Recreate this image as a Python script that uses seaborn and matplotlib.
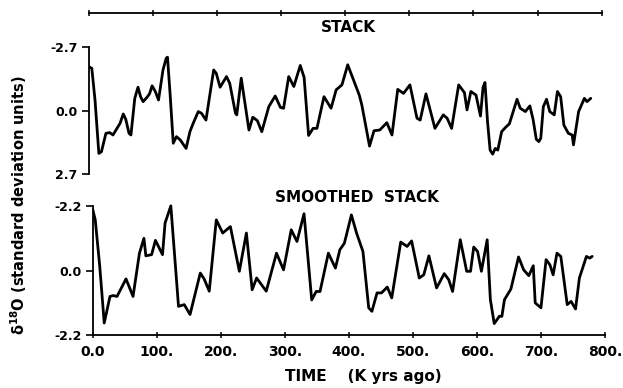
import matplotlib
matplotlib.use("Agg")
import matplotlib.pyplot as plt
import numpy as np
import pandas as pd
import seaborn as sns

# ---------------- data ----------------
stack_time = [0, 5, 10, 16, 20, 27, 33, 38, 49, 54, 58, 63, 66, 72, 77, 81, 85, 91, 95, 99,
              104, 109, 116, 121, 123, 127, 132, 137, 143, 152, 158, 163, 171, 176, 183, 195,
              199, 205, 215, 220, 229, 231, 238, 250, 256, 263, 270, 281, 291, 299, 304, 312,
              320, 330, 336, 343, 350, 356, 367, 378, 386, 395, 404, 413, 422, 426, 438, 445,
              454, 465, 473, 482, 491, 501, 512, 517, 526, 540, 553, 559, 566, 577, 586, 590,
              596, 604, 611, 615, 618, 622, 626, 630, 634, 638, 644, 650, 656, 662, 668, 673,
              681, 688, 693, 698, 702, 705, 709, 714, 719, 726, 731, 736, 741, 748, 754, 756,
              764, 773, 777, 783]
stack_vals = [-1.86, -1.79, -0.45, 1.81, 1.74, 0.96, 0.93, 1.03, 0.54, 0.14, 0.37, 0.96, 1.03,
              -0.52, -0.99, -0.59, -0.38, -0.56, -0.71, -1.05, -0.81, -0.45, -1.72, -2.22,
              -2.26, -0.73, 1.38, 1.10, 1.24, 1.60, 0.89, 0.54, 0.04, 0.11, 0.40, -1.72, -1.58,
              -0.99, -1.44, -1.16, 0.11, 0.18, -1.37, 0.82, 0.28, 0.42, 0.89, -0.17, -0.62,
              -0.14, -0.10, -1.44, -1.02, -1.91, -1.41, 1.05, 0.75, 0.75, -0.59, -0.10, -0.88,
              -1.09, -1.94, -1.30, -0.66, -0.24, 1.50, 0.85, 0.82, 0.51, 1.03, -0.90, -0.73,
              -1.09, 0.32, 0.40, -0.71, 0.75, 0.18, 0.32, 0.75, -1.09, -0.76, -0.03, -0.81,
              -0.66, 0.23, -0.99, -1.19, 0.47, 1.67, 1.84, 1.60, 1.67, 0.89, 0.71, 0.56, 0.04,
              -0.48, -0.10, 0.04, -0.20, 0.37, 1.21, 1.31, 1.17, -0.17, -0.48, 0.04, 0.18,
              -0.81, -0.59, 0.61, 0.96, 1.03, 1.45, 0.04, -0.52, -0.38, -0.52]

smooth_time = [0, 4, 11, 18, 27, 32, 38, 52, 63, 73, 80, 83, 92, 98, 109, 113, 122, 134, 143,
               152, 168, 174, 182, 193, 203, 215, 229, 240, 249, 256, 271, 287, 298, 310, 319,
               330, 342, 349, 355, 368, 379, 386, 393, 404, 412, 422, 431, 436, 444, 451, 460,
               467, 481, 491, 498, 510, 517, 525, 537, 549, 556, 562, 574, 584, 590, 595, 601,
               607, 616, 621, 627, 635, 639, 643, 653, 665, 673, 681, 688, 691, 700, 708, 714,
               719, 725, 731, 741, 747, 754, 760, 771, 776, 780]
smooth_vals = [-2.10, -1.74, -0.15, 1.79, 0.88, 0.85, 0.88, 0.28, 0.88, -0.60, -1.11, -0.51,
               -0.55, -1.04, -0.55, -1.63, -2.22, 1.22, 1.16, 1.50, 0.08, 0.28, 0.70, -1.74,
               -1.29, -1.51, 0.02, -1.29, 0.65, 0.25, 0.70, -0.60, -0.03, -1.40, -1.00, -1.95,
               1.00, 0.71, 0.71, -0.60, -0.09, -0.72, -0.94, -1.91, -1.29, -0.66, 1.27, 1.39,
               0.76, 0.76, 0.56, 0.93, -0.98, -0.83, -1.02, 0.25, 0.14, -0.51, 0.59, 0.10, 0.31,
               0.71, -1.06, 0.02, 0.02, -0.81, -0.66, 0.02, -1.06, 0.99, 1.81, 1.56, 1.56, 0.99,
               0.63, -0.47, -0.03, 0.17, -0.17, 1.10, 1.27, -0.38, -0.20, 0.14, -0.60, -0.49,
               1.16, 1.05, 1.31, 0.25, -0.49, -0.43, -0.49]

x_ticks = [0, 100, 200, 300, 400, 500, 600, 700, 800]
x_ticklabels = ["0.0", "100.", "200.", "300.", "400.", "500.", "600.", "700.", "800."]
top_yticks = [-2.7, 0.0, 2.7]
top_yticklabels = ["-2.7", "0.0", "2.7"]
bot_yticks = [-2.2, 0.0, 2.2]
bot_yticklabels = ["-2.2", "0.0", "-2.2"]

# ---------------- style ----------------
sns.set_style("ticks")
plt.rcParams["font.family"] = ["DejaVu Sans"]
plt.rcParams["axes.linewidth"] = 1.3
for key in ["text.color", "axes.labelcolor", "xtick.color", "ytick.color",
            "axes.edgecolor"]:
    plt.rcParams[key] = "black"

W, H = 623, 388
fig = plt.figure(figsize=(W / 100, H / 100), dpi=100)
fig.patch.set_facecolor("white")

def fx(px):
    return px / W

def fy(py):
    return 1 - py / H

LW = 2.0

# top panel
ax1 = fig.add_axes([fx(88.6), fy(178), fx(601.7 - 88.6), (178 - 13) / H])
df1 = pd.DataFrame({"time": stack_time, "val": stack_vals})
sns.lineplot(data=df1, x="time", y="val", ax=ax1, color="black", linewidth=LW,
             sort=False, estimator=None)
ax1.set_xlim(0, 800)
ax1.set_ylim(2.85, -4.13)
ax1.spines["right"].set_visible(False)
ax1.spines["bottom"].set_visible(False)
ax1.spines["left"].set_bounds(-2.7, 2.7)
ax1.xaxis.tick_top()
ax1.set_xticks(x_ticks)
ax1.set_xticklabels([""] * len(x_ticks))
ax1.tick_params(axis="x", direction="inout", length=5, width=1.1, color="black")
ax1.set_yticks(top_yticks)
ax1.set_yticklabels(top_yticklabels, fontweight="bold")
ax1.tick_params(axis="y", direction="out", length=5, width=1.2, pad=3, labelsize=9,
                color="black", labelcolor="black")
ax1.set_xlabel("")
ax1.set_ylabel("")
ax1.patch.set_alpha(0)

# bottom panel
ax2 = fig.add_axes([fx(92.7), fy(335), fx(605 - 92.7), (335 - 200) / H])
df2 = pd.DataFrame({"time": smooth_time, "val": smooth_vals})
sns.lineplot(data=df2, x="time", y="val", ax=ax2, color="black", linewidth=LW,
             sort=False, estimator=None)
ax2.set_xlim(0, 800)
ax2.set_ylim(2.2, -2.42)
ax2.spines["right"].set_visible(False)
ax2.spines["top"].set_visible(False)
ax2.spines["left"].set_bounds(-2.2, 2.2)
ax2.set_xticks(x_ticks)
ax2.set_xticklabels(x_ticklabels, fontweight="bold")
ax2.tick_params(axis="x", direction="inout", length=5, width=1.1, pad=5, labelsize=10,
                color="black", labelcolor="black")
ax2.set_yticks(bot_yticks)
ax2.set_yticklabels(bot_yticklabels, fontweight="bold")
ax2.tick_params(axis="y", direction="out", length=5, width=1.2, pad=3, labelsize=9,
                color="black", labelcolor="black")
ax2.set_xlabel("")
ax2.set_ylabel("")
ax2.patch.set_alpha(0)

# texts
fig.text(fx(348), fy(28), "STACK", ha="center", va="center", fontsize=11,
         fontweight="bold", color="black")
fig.text(fx(357), fy(197), "SMOOTHED  STACK", ha="center", va="center", fontsize=11,
         fontweight="bold", color="black")
fig.text(fx(363), fy(376), "TIME    (K yrs ago)", ha="center", va="center", fontsize=11,
         fontweight="bold", color="black")
fig.text(fx(19), fy(205), r"$\mathbf{\delta^{18}}$O (standard deviation units)",
         ha="center", va="center", rotation=90, fontsize=10.5, fontweight="bold",
         color="black")

fig.savefig("out.png", dpi=100, facecolor="white")
